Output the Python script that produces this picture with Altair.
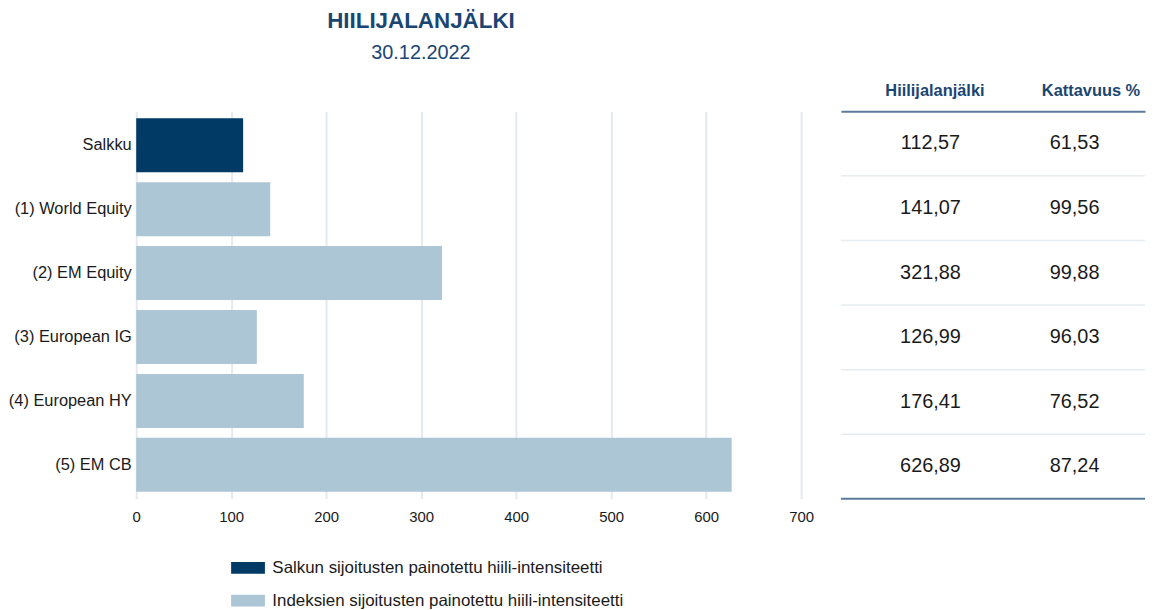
import altair as alt
import pandas as pd

categories = ["Salkku", "(1) World Equity", "(2) EM Equity", "(3) European IG",
              "(4) European HY", "(5) EM CB"]
footprint = [112.57, 141.07, 321.88, 126.99, 176.41, 626.89]
coverage = [61.53, 99.56, 99.88, 96.03, 76.52, 87.24]
series_names = ["Salkun sijoitusten painotettu hiili-intensiteetti",
                "Indeksien sijoitusten painotettu hiili-intensiteetti"]
series_of = [0, 1, 1, 1, 1, 1]
x_ticks = [0, 100, 200, 300, 400, 500, 600, 700]
table_cols = ["Hiilijalanjälki", "Kattavuus %"]

DARK = "#023a66"
LIGHT = "#adc6d6"
TITLE_BLUE = "#1a4673"
FONT = "Liberation Sans"


def fmt(v):
    return f"{v:.2f}".replace(".", ",")


bars_df = pd.DataFrame({
    "cat": categories,
    "value": footprint,
    "series": [series_names[i] for i in series_of],
})

table_df = pd.DataFrame({
    "cat": categories * 2,
    "col": [table_cols[0]] * len(categories) + [table_cols[1]] * len(categories),
    "txt": [fmt(v) for v in footprint] + [fmt(v) for v in coverage],
})

sep_df = pd.DataFrame({"cat": categories})

H = 390

bars = alt.Chart(bars_df).mark_bar().encode(
    y=alt.Y("cat:N", sort=categories,
            scale=alt.Scale(paddingInner=0.155, paddingOuter=0.11),
            axis=alt.Axis(title=None, domain=False, ticks=False, grid=False,
                          labelFontSize=16.5, labelColor="#1a1a1a", labelFont=FONT,
                          labelPadding=5)),
    x=alt.X("value:Q", scale=alt.Scale(domain=[0, 700], nice=False),
            axis=alt.Axis(title=None, values=x_ticks, domain=False, ticks=False,
                          grid=True, gridColor="#e4eaef", gridWidth=2,
                          labelFlush=False,
                          labelFontSize=15, labelColor="#1a1a1a", labelFont=FONT,
                          labelPadding=11)),
    color=alt.Color("series:N",
                    scale=alt.Scale(domain=series_names, range=[DARK, LIGHT]),
                    legend=alt.Legend(title=None, orient="none", legendX=104,
                                      legendY=451, direction="vertical",
                                      symbolType="M-2,-0.7H2V0.7H-2Z",
                                      symbolSize=289, symbolStrokeWidth=0,
                                      labelFontSize=17, labelFont=FONT,
                                      labelColor="#1a1a1a", labelOffset=16,
                                      rowPadding=15, labelLimit=500)),
).properties(
    width=669, height=H,
    title=alt.TitleParams(
        text="HIILIJALANJÄLKI", subtitle="30.12.2022",
        font=FONT, fontSize=22.5, fontWeight="bold", color=TITLE_BLUE,
        subtitleFont=FONT, subtitleFontSize=20, subtitleColor=TITLE_BLUE,
        subtitlePadding=10, anchor="middle", dx=-48, offset=49,
    ),
)

xcol = alt.X("col:N", sort=table_cols,
             scale=alt.Scale(type="point", padding=0.555, align=0.56),
             axis=alt.Axis(title=None, orient="top", ticks=False, labelAngle=0,
                           labelFontSize=16.5, labelFontWeight="bold",
                           labelColor=TITLE_BLUE, labelFont=FONT, labelPadding=13,
                           labelOffset={"condition": {"test": "datum.value === 'Kattavuus %'",
                                                      "value": 16},
                                        "value": 4},
                           domain=True, domainColor="#5b7b9b", domainWidth=2,
                           grid=False))
ycat = alt.Y("cat:N", sort=categories,
             scale=alt.Scale(paddingInner=0, paddingOuter=0), axis=None)

texts = alt.Chart(table_df).mark_text(font=FONT, fontSize=20, color="#1a1a1a").encode(
    x=xcol, y=ycat, text="txt:N")

seps = alt.Chart(sep_df).mark_rule().encode(
    y=alt.Y("cat:N", sort=categories, bandPosition=1,
            scale=alt.Scale(paddingInner=0, paddingOuter=0), axis=None),
    color=alt.condition(alt.datum.cat == categories[-1],
                        alt.value("#5b7b9b"), alt.value("#e6ecf0")),
    strokeWidth=alt.condition(alt.datum.cat == categories[-1],
                              alt.value(2), alt.value(1.5)),
)

table = alt.layer(seps, texts).properties(width=306, height=H)

chart = alt.hconcat(bars, table, spacing=26).properties(
    padding={"left": 0, "top": 0, "right": 0, "bottom": 0}
).configure_view(stroke=None)

chart.save("out.html", embed_options={"renderer": "svg", "actions": False})
